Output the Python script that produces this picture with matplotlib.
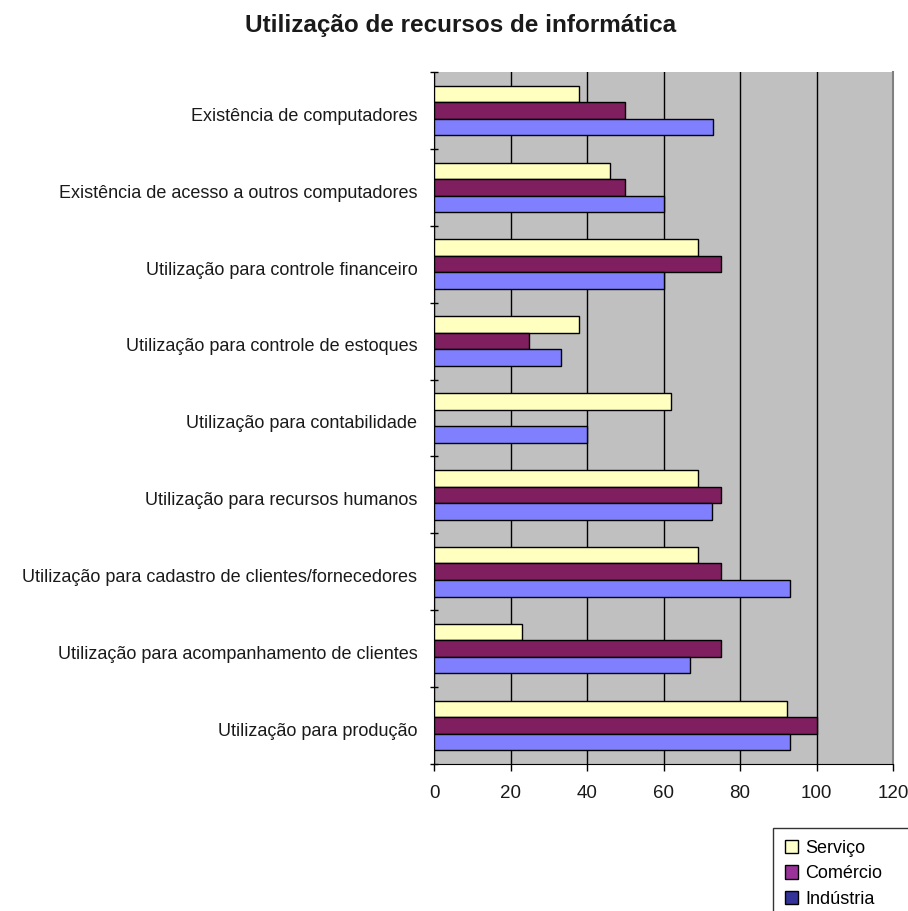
import numpy as np
import matplotlib.pyplot as plt
from matplotlib.patches import Patch

plt.rcParams['font.family'] = ['Liberation Sans', 'DejaVu Sans']

categories = [
    "Existência de computadores",
    "Existência de acesso a outros computadores",
    "Utilização para controle financeiro",
    "Utilização para controle de estoques",
    "Utilização para contabilidade",
    "Utilização para recursos humanos",
    "Utilização para cadastro de clientes/fornecedores",
    "Utilização para acompanhamento de clientes",
    "Utilização para produção",
]
servico = [38, 46, 69, 38, 62, 69, 69, 23, 92.3]
comercio = [50, 50, 75, 24.7, 0, 75, 75, 75, 100]
industria = [72.9, 60, 60, 33.2, 40, 72.8, 93, 66.8, 93]
series_names = ["Serviço", "Comércio", "Indústria"]
bar_colors = ["#FFFFC0", "#7F1F5F", "#8080FF"]
legend_colors = ["#FFFFCC", "#993399", "#333399"]

fig = plt.figure(figsize=(9.08, 9.11), dpi=100)
ax = fig.add_axes([0.478, 0.1614, 0.5055, 0.7596])
ax.set_facecolor("#C0C0C0")

y = np.arange(len(categories))
h = 0.215
for k, vals in enumerate([servico, comercio, industria]):
    ax.barh(y + (k - 1) * h, vals, height=h, color=bar_colors[k],
            edgecolor="black", linewidth=1, zorder=3)

ax.set_xlim(0, 120)
ax.set_ylim(len(categories) - 0.5, -0.5)
ax.set_xticks(range(0, 121, 20))
ax.set_yticks(y + 0.05)
ax.set_yticklabels(categories, fontsize=13, color="#1a1a1a")
ax.set_yticks(np.arange(-0.5, len(categories), 1.0), minor=True)
ax.tick_params(axis="y", which="major", length=0, pad=12)
ax.tick_params(axis="y", which="minor", length=6, direction="inout", width=1)
ax.tick_params(axis="x", labelsize=13.5, length=5, width=1, pad=10,
               labelcolor="#1a1a1a")
ax.xaxis.grid(True, color="black", linewidth=1, zorder=0)
ax.set_axisbelow(True)

ax.spines["left"].set_color("black")
ax.spines["bottom"].set_color("black")
ax.spines["right"].set_color("#808080")
ax.spines["top"].set_visible(False)
ax.spines["right"].set_linewidth(1.5)

fig.text(0.507, 0.972, "Utilização de recursos de informática",
         ha="center", va="center", fontsize=17.5, fontweight="bold",
         color="#1a1a1a")

handles = [Patch(facecolor=c, edgecolor="black", linewidth=1) for c in legend_colors]
leg = fig.legend(handles, series_names, loc="upper left", mode="expand",
                 bbox_to_anchor=(773 / 908, 0, 0.2, 1 - 828 / 911), fontsize=13,
                 frameon=True, fancybox=False, edgecolor="black",
                 handlelength=0.75, handleheight=0.75, handletextpad=0.4,
                 labelspacing=0.48, borderaxespad=0, borderpad=0.65)
leg.get_frame().set_linewidth(1)

fig.savefig("out.png", dpi=100)
plt.close(fig)
